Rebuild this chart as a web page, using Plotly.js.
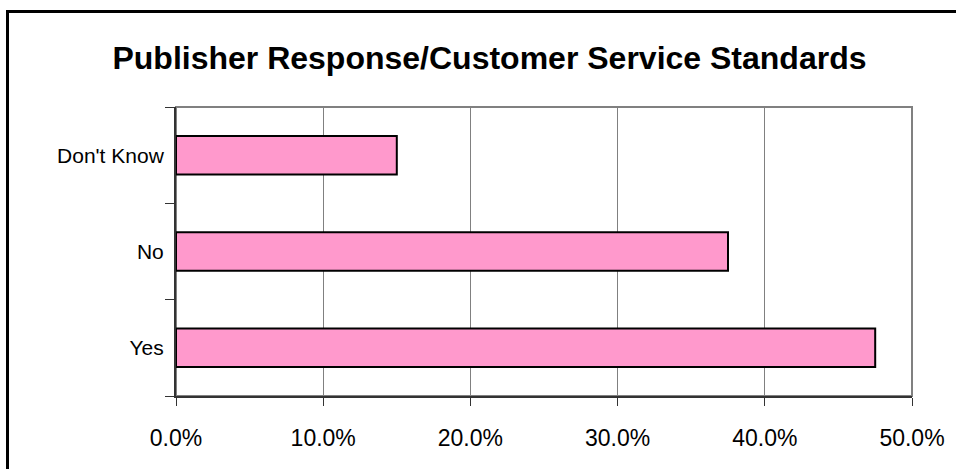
<!DOCTYPE html>
<html>
<head>
<meta charset="utf-8">
<script src="https://cdn.plot.ly/plotly-3.0.1.min.js"></script>
<style>
  html, body { margin: 0; padding: 0; background: #ffffff; }
  #wrap { position: relative; width: 956px; height: 469px; overflow: hidden; }
  #chart { position: absolute; left: 0; top: 0; width: 956px; height: 469px; }
  #frame { position: absolute; left: 6px; top: 10px; width: 960px; height: 480px;
           border: 3px solid #000; box-sizing: border-box; pointer-events: none; }
</style>
</head>
<body>
<div id="wrap">
  <div id="chart"></div>
  <div id="frame"></div>
</div>
<script>
// Data
const categories = ['Yes', 'No', "Don't Know"];
const shares = [0.475, 0.375, 0.15];
const chartTitle = 'Publisher Response/Customer Service Standards';

const trace = {
  type: 'bar',
  orientation: 'h',
  y: categories,
  x: shares,
  marker: { color: '#FF99CC', line: { color: '#000000', width: 2 } },
  hoverinfo: 'skip'
};

const layout = {
  width: 956,
  height: 469,
  margin: { l: 176, r: 44, t: 107, b: 73 },
  paper_bgcolor: 'rgba(0,0,0,0)',
  plot_bgcolor: '#ffffff',
  font: { family: 'Liberation Sans, Arial, sans-serif', color: '#000000', size: 20 },
  title: {
    text: '<b>' + chartTitle + '</b>',
    font: { family: 'Liberation Sans, Arial, sans-serif', size: 32, color: '#000000' },
    x: 0.512, xanchor: 'center', xref: 'container',
    y: 0.876, yanchor: 'middle', yref: 'container'
  },
  bargap: 0.6,
  showlegend: false,
  xaxis: {
    range: [0, 0.5],
    dtick: 0.1,
    tick0: 0,
    tickformat: '.1%',
    showgrid: true,
    gridcolor: '#808080',
    gridwidth: 1,
    zeroline: false,
    showline: true,
    linecolor: '#333333',
    linewidth: 2,
    ticks: 'outside',
    ticklen: 8,
    tickcolor: '#333333',
    tickwidth: 1,
    ticklabelstandoff: 12,
    tickfont: { size: 23 },
    fixedrange: true
  },
  yaxis: {
    type: 'category',
    showgrid: false,
    zeroline: false,
    showline: true,
    linecolor: '#333333',
    linewidth: 2,
    ticks: 'outside',
    tickson: 'boundaries',
    ticklen: 9,
    tickcolor: '#333333',
    tickwidth: 1,
    ticklabelstandoff: 6,
    tickfont: { size: 21 },
    fixedrange: true
  },
  shapes: [{
    type: 'rect', xref: 'paper', yref: 'paper',
    x0: 0, x1: 1, y0: 0, y1: 1,
    line: { color: '#808080', width: 2 },
    layer: 'below'
  }]
};

Plotly.newPlot('chart', [trace], layout, { displayModeBar: false, staticPlot: true });
</script>
</body>
</html>
